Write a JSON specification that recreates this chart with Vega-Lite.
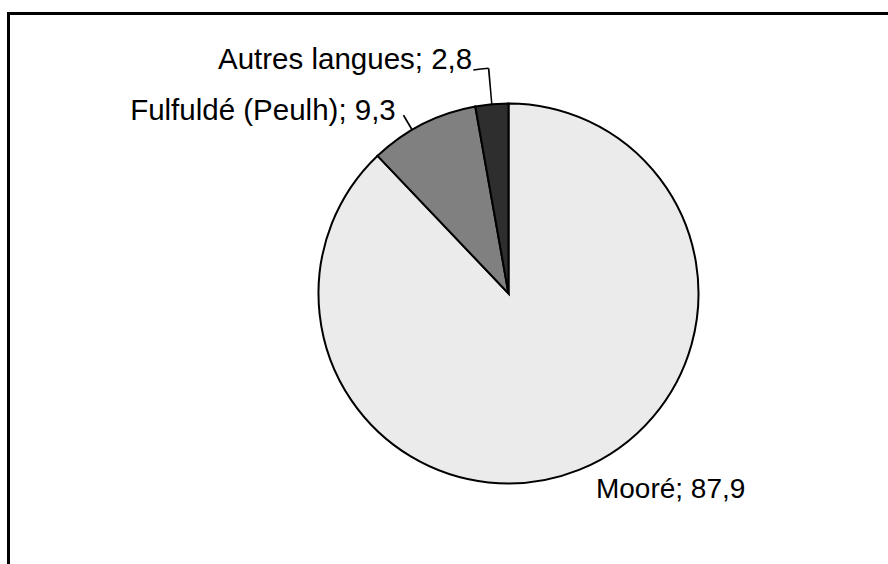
{
  "$schema": "https://vega.github.io/schema/vega-lite/v6.json",
  "width": 1000,
  "height": 560,
  "autosize": "none",
  "padding": {"left": 8.5, "top": 13.5, "right": 0, "bottom": 0},
  "background": "white",
  "view": {"stroke": "black", "strokeWidth": 3},
  "config": {
    "view": {"stroke": "black", "strokeWidth": 3},
    "style": {"view": {"stroke": "black", "strokeWidth": 3}},
    "text": {"font": "Liberation Sans", "fontSize": 28, "color": "black"}
  },
  "data": {
    "values": [
      {"langue": "Mooré", "part": 87.9, "label": "Mooré; 87,9"},
      {"langue": "Fulfuldé (Peulh)", "part": 9.3, "label": "Fulfuldé (Peulh); 9,3"},
      {"langue": "Autres langues", "part": 2.8, "label": "Autres langues; 2,8"}
    ]
  },
  "encoding": {
    "order": {"field": "langue", "type": "ordinal", "sort": "descending"}
  },
  "resolve": {"scale": {"theta": "independent"}},
  "layer": [
    {
      "mark": {"type": "arc", "radius": 190, "stroke": "black", "strokeWidth": 2},
      "encoding": {
        "theta": {"field": "part", "type": "quantitative", "stack": true, "scale": {"domain": [0, 100]}},
        "color": {
          "field": "langue",
          "type": "nominal",
          "scale": {
            "domain": ["Mooré", "Fulfuldé (Peulh)", "Autres langues"],
            "range": ["#ebebeb", "#808080", "#2e2e2e"]
          },
          "legend": null
        }
      }
    },
    {
      "mark": {"type": "arc", "radius": 226, "radius2": 190, "fill": "black"},
      "encoding": {
        "theta": {"field": "part", "type": "quantitative", "stack": true, "scale": {"domain": [0, 100], "range": [5.92479, 6.19906]}},
        "opacity": {"condition": {"test": "datum.langue === 'Autres langues'", "value": 1}, "value": 0}
      }
    },
    {
      "mark": {"type": "arc", "radius": 227, "radius2": 225.4, "fill": "black"},
      "encoding": {
        "theta": {"field": "part", "type": "quantitative", "stack": true, "scale": {"domain": [0, 100], "range": [3.76398, 6.19505]}},
        "opacity": {"condition": {"test": "datum.langue === 'Autres langues'", "value": 1}, "value": 0}
      }
    },
    {
      "mark": {"type": "arc", "radius": 207, "radius2": 190, "fill": "black"},
      "encoding": {
        "theta": {"field": "part", "type": "quantitative", "stack": true, "scale": {"domain": [0, 100], "range": [5.66403, 5.75784]}},
        "opacity": {"condition": {"test": "datum.langue === 'Fulfuldé (Peulh)'", "value": 1}, "value": 0}
      }
    },
    {
      "mark": {"type": "text", "radius": 225.4, "dx": -16.5, "align": "right", "baseline": "alphabetic", "fontSize": 29.5},
      "encoding": {
        "theta": {"field": "part", "type": "quantitative", "stack": true, "scale": {"domain": [0, 100]}},
        "text": {"condition": {"test": "datum.langue === 'Autres langues'", "field": "label"}, "value": ""}
      }
    },
    {
      "mark": {"type": "text", "radius": 194.4, "dx": -25, "align": "right", "baseline": "alphabetic", "fontSize": 29.5},
      "encoding": {
        "theta": {"field": "part", "type": "quantitative", "stack": true, "scale": {"domain": [0, 100]}},
        "text": {"condition": {"test": "datum.langue === 'Fulfuldé (Peulh)'", "field": "label"}, "value": ""}
      }
    },
    {
      "mark": {"type": "text", "radius": 220.5, "dx": 5.6, "align": "left", "baseline": "alphabetic"},
      "encoding": {
        "theta": {"field": "part", "type": "quantitative", "stack": true, "scale": {"domain": [0, 100]}},
        "text": {"condition": {"test": "datum.langue === 'Mooré'", "field": "label"}, "value": ""}
      }
    }
  ]
}
